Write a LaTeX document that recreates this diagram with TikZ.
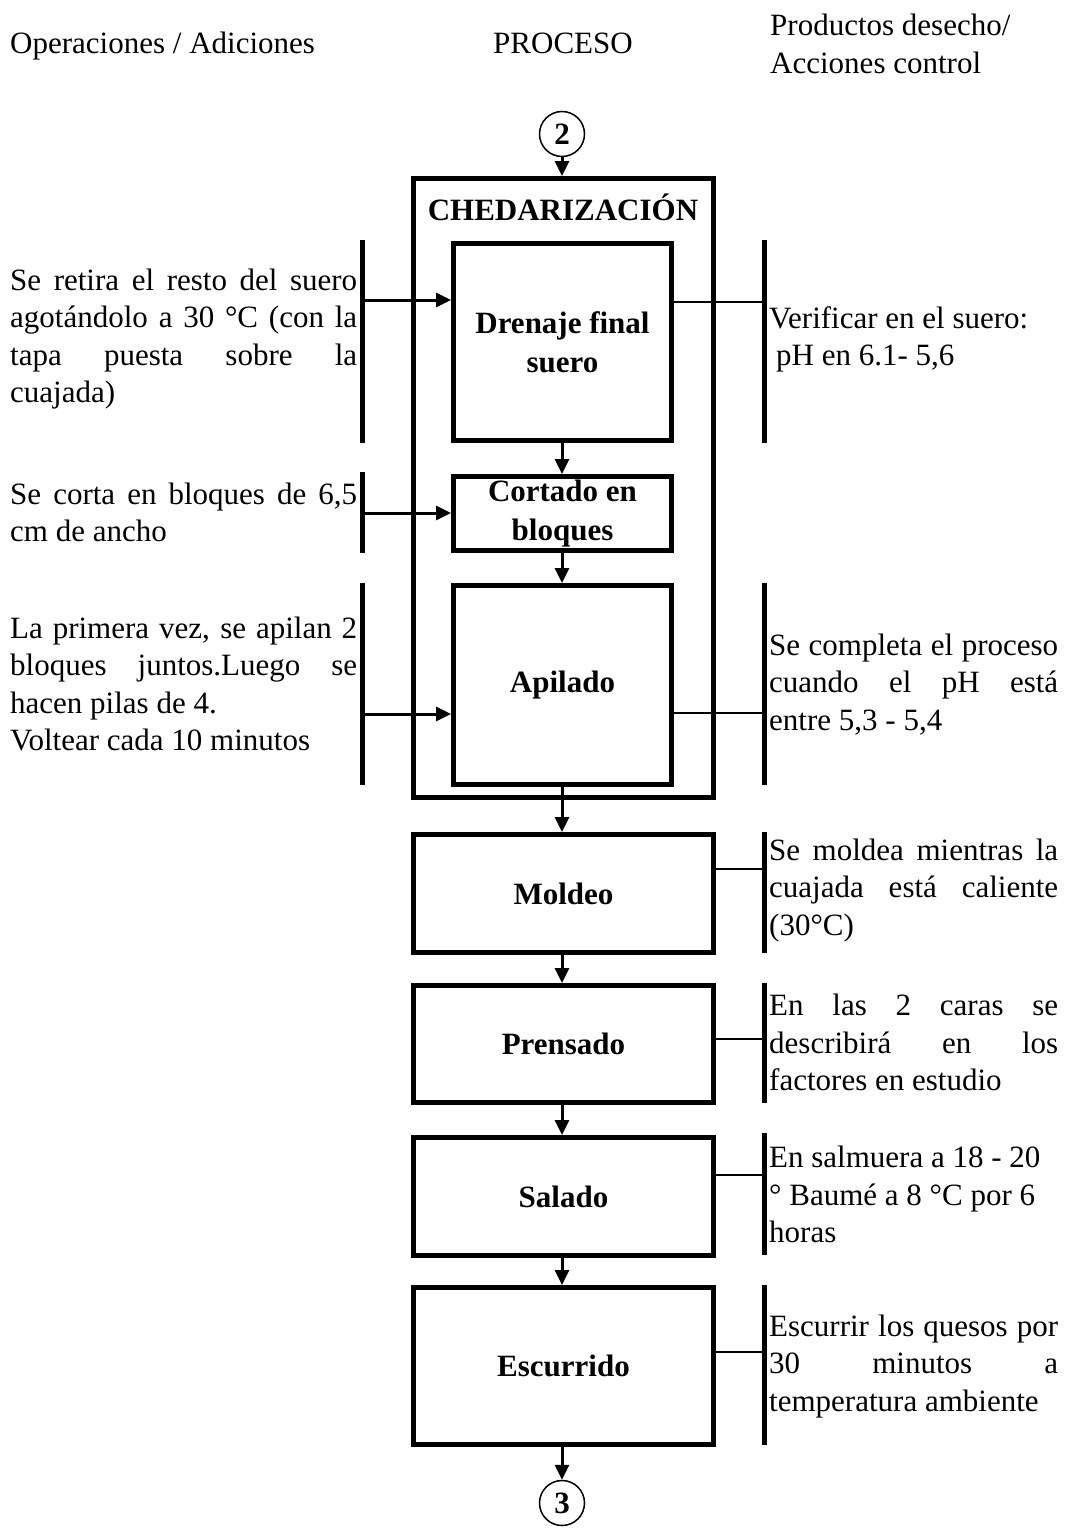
\documentclass[tikz,border=0pt]{standalone}
\usepackage{fontspec}
\setmainfont{Liberation Serif}
\usetikzlibrary{arrows.meta}
\newcommand{\jline}[2]{\makebox[#1][s]{#2}}
\begin{document}
\begin{tikzpicture}[x=1pt,y=-1pt,
  txt/.style={inner sep=0pt, align=left, font=\fontsize{31}{37.3}\selectfont},
  blk/.style={txt, anchor=west},
  box/.style={draw, line width=5pt, inner sep=0pt, align=center, font=\fontsize{31}{39}\selectfont\bfseries},
  conncirc/.style={draw, circle, line width=1.5pt, minimum size=45pt, inner sep=0pt, font=\fontsize{31}{37}\selectfont\bfseries},
  bar/.style={line width=5pt},
  arr/.style={line width=3pt, -{Triangle[width=14pt,length=15pt]}},
  conn/.style={line width=1.5pt}]
\useasboundingbox (0,0) rectangle (1069,1528);

% headers
\node[txt, anchor=base west] (h1) at (10,53) {Operaciones / Adiciones};
\node[txt, anchor=base] (h2) at (563,53) {PROCESO};
\node[blk] (h3) at (770,44) {Productos desecho/\\Acciones control};

% connectors
\node[conncirc] (c2) at (562,134) {2};
\node[conncirc] (c3) at (562,1503) {3};

% boxes
\node[box, minimum width=300pt, minimum height=619pt] (ched) at (563.5,488) {};
\node[txt, font=\fontsize{31}{37}\selectfont\bfseries] (chedt) at (563,207) {CHEDARIZACIÓN};
\node[box, minimum width=218pt, minimum height=197pt] (dren) at (562.5,342) {Drenaje final\\suero};
\node[box, minimum width=218pt, minimum height=74pt] (cort) at (562.5,513.5) {Cortado en\\bloques};
\node[box, minimum width=218pt, minimum height=199pt] (apil) at (562.5,685) {Apilado};
\node[box, minimum width=300pt, minimum height=118pt] (mold) at (563.5,893.5) {Moldeo};
\node[box, minimum width=300pt, minimum height=117pt] (pren) at (563.5,1044) {Prensado};
\node[box, minimum width=300pt, minimum height=118pt] (sala) at (563.5,1196.5) {Salado};
\node[box, minimum width=300pt, minimum height=157pt] (escu) at (563.5,1366) {Escurrido};

% vertical flow arrows
\draw[arr] (c2.south) -- (c2.south |- ched.north);
\draw[arr] (dren.south -| c2) -- (cort.north -| c2);
\draw[arr] (cort.south -| c2) -- (apil.north -| c2);
\draw[arr] (apil.south -| c2) -- (mold.north -| c2);
\draw[arr] (mold.south -| c2) -- (pren.north -| c2);
\draw[arr] (pren.south -| c2) -- (sala.north -| c2);
\draw[arr] (sala.south -| c2) -- (escu.north -| c2);
\draw[arr] (escu.south -| c2) -- (c3.north);

% left bars and arrows
\coordinate (lb1t) at (362,240); \coordinate (lb1b) at (362,443);
\coordinate (lb2t) at (362,472); \coordinate (lb2b) at (362,553);
\coordinate (lb3t) at (362,583); \coordinate (lb3b) at (362,785);
\draw[bar] (lb1t) -- (lb1b);
\draw[bar] (lb2t) -- (lb2b);
\draw[bar] (lb3t) -- (lb3b);
\coordinate (la1) at (362,300);
\coordinate (la2) at (362,513);
\coordinate (la3) at (362,714);
\draw[arr] (la1) -- (la1 -| dren.west);
\draw[arr] (la2) -- (la2 -| cort.west);
\draw[arr] (la3) -- (la3 -| apil.west);

% right bars and lines
\draw[bar] (764,240) -- (764,443);
\draw[bar] (764,583) -- (764,785);
\draw[bar] (764,832) -- (764,953);
\draw[bar] (764,983) -- (764,1103);
\draw[bar] (764,1133) -- (764,1255);
\draw[bar] (764,1285) -- (764,1445);
\coordinate (r1) at (764,302);
\coordinate (r2) at (764,713);
\coordinate (r3) at (764,869);
\coordinate (r4) at (764,1039);
\coordinate (r5) at (764,1175);
\coordinate (r6) at (764,1352);
\draw[conn] (r1 -| dren.east) -- (r1);
\draw[conn] (r2 -| apil.east) -- (r2);
\draw[conn] (r3 -| mold.east) -- (r3);
\draw[conn] (r4 -| pren.east) -- (r4);
\draw[conn] (r5 -| sala.east) -- (r5);
\draw[conn] (r6 -| escu.east) -- (r6);

% left texts
\node[blk] (l1) at (10,339) {\jline{347pt}{Se retira el resto del suero}\\\jline{347pt}{agotándolo a 30 °C (con la}\\\jline{347pt}{tapa puesta sobre la}\\cuajada)};
\node[blk] (l2) at (10,512.5) {\jline{347pt}{Se corta en bloques de 6,5}\\cm de ancho};
\node[blk] (l3) at (10,684) {\jline{347pt}{La primera vez, se apilan 2}\\\jline{347pt}{bloques juntos.Luego se}\\hacen pilas de 4.\\Voltear cada 10 minutos};

% right texts
\node[blk] (t1) at (769,339.5) {Verificar en el suero:\\\hspace*{7pt}pH en 6.1- 5,6};
\node[blk] (t2) at (769,684.5) {\jline{289pt}{Se completa el proceso}\\\jline{289pt}{cuando el pH está}\\entre 5,3 - 5,4};
\node[blk] (t3) at (769,890.5) {\jline{289pt}{Se moldea mientras la}\\\jline{289pt}{cuajada está caliente}\\(30°C)};
\node[blk] (t4) at (769,1042.5) {\jline{289pt}{En las 2 caras se}\\\jline{289pt}{describirá en los}\\factores en estudio};
\node[blk] (t5) at (769,1194.5) {En salmuera a 18 - 20\\° Baumé a 8 °C por 6\\horas};
\node[blk] (t6) at (769,1366.5) {\jline{289pt}{Escurrir los quesos por}\\\jline{289pt}{30 minutos a}\\temperatura ambiente};
\end{tikzpicture}
\end{document}
